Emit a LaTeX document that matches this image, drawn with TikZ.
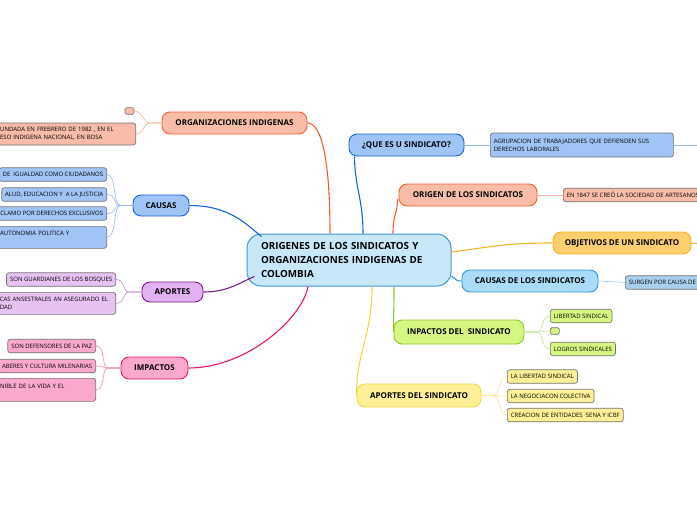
\documentclass[tikz,border=0pt]{standalone}
\usepackage{fontspec}
\setmainfont{Open Sans}
\usepackage{tikz}
\usetikzlibrary{positioning}

\definecolor{rootfill}{RGB}{200,232,250}
\definecolor{rootline}{RGB}{60,150,220}
\definecolor{orgfill}{RGB}{248,188,168}
\definecolor{orgline}{RGB}{240,95,50}
\definecolor{causfill}{RGB}{160,196,246}
\definecolor{causline}{RGB}{20,100,220}
\definecolor{aporfill}{RGB}{226,178,240}
\definecolor{aporline}{RGB}{120,30,130}
\definecolor{impfill}{RGB}{250,168,205}
\definecolor{impline}{RGB}{232,20,110}
\definecolor{objfill}{RGB}{253,206,110}
\definecolor{objline}{RGB}{245,180,40}
\definecolor{csfill}{RGB}{170,220,250}
\definecolor{csline}{RGB}{50,150,220}
\definecolor{csleaf}{RGB}{168,208,236}
\definecolor{inpfill}{RGB}{214,246,130}
\definecolor{inpline}{RGB}{140,200,40}
\definecolor{apsfill}{RGB}{253,240,150}
\definecolor{apsline}{RGB}{240,215,70}
\definecolor{leafline}{RGB}{115,115,115}

\begin{document}
\begin{tikzpicture}[x=1pt,y=-1pt,
    central/.style={draw=rootline, fill=rootfill, line width=1pt, rounded corners=14pt,
      text width=176pt, inner xsep=14pt, minimum height=52pt, align=left,
      font=\bfseries\fontsize{9.8}{13.7}\selectfont},
    branch/.style={line width=0.9pt, rounded corners=8pt, minimum height=22pt, inner sep=0pt,
      font=\bfseries\fontsize{8}{9.5}\selectfont},
    leaf/.style={draw=leafline, line width=0.7pt, rounded corners=2.5pt, inner xsep=3.5pt,
      inner ysep=1pt, minimum height=13.5pt, align=left, font=\fontsize{6}{8}\selectfont},
    dot/.style={draw=leafline, line width=0.7pt, rounded corners=1.5pt, minimum width=9pt,
      minimum height=6.5pt, inner sep=0pt},
    link/.style={line width=1.1pt},
    twig/.style={line width=0.6pt}]
    \useasboundingbox (0,0) rectangle (697,520);
    \clip (0,0) rectangle (697,520);

    \node[central] (root) at (349,260) {ORIGENES DE LOS SINDICATOS Y\\ORGANIZACIONES INDIGENAS DE\\COLOMBIA};

    % left side
    \node[branch, draw=orgline, fill=orgfill, minimum width=145pt] (org) at (234.5,123) {ORGANIZACIONES INDIGENAS};
    \node[dot, fill=orgfill] (org0) at (129.5,111) {};
    \node[leaf, fill=orgfill, text width=132pt, minimum height=22pt, anchor=east] (org1) at (136,134) {UNDADA EN FREBRERO DE 1982 , EN EL\\ESO INDIGENA NACIONAL, EN BOSA};

    \node[branch, draw=causline, fill=causfill, minimum width=56pt, minimum height=21pt] (causas) at (161,205.5) {CAUSAS};
    \node[leaf, fill=causfill, anchor=east] (caus1) at (107,174.5) {DE\ \ IGUALDAD COMO CIUDADANOS};
    \node[leaf, fill=causfill, anchor=east] (caus2) at (107,194.5) {ALUD, EDUCACION Y\ \ A LA JUSTICIA};
    \node[leaf, fill=causfill, anchor=east] (caus3) at (107,213.5) {CLAMO POR DERECHOS EXCLUSIVOS};
    \node[leaf, fill=causfill, text width=103pt, minimum height=22pt, anchor=north east] (caus4) at (107,226) {AUTONOMIA POLITICA Y\\\mbox{}};

    \node[branch, draw=aporline, fill=aporfill, minimum width=61pt, minimum height=20pt] (aportes) at (172.5,292) {APORTES};
    \node[leaf, fill=aporfill!80!white, anchor=east] (apor1) at (116,279.5) {SON GUARDIANES DE LOS BOSQUES};
    \node[leaf, fill=aporfill!80!white, text width=114pt, minimum height=22pt, anchor=north east] (apor2) at (116,292) {ICAS ANSESTRALES AN ASEGURADO EL\\IDAD};

    \node[branch, draw=impline, fill=impfill, minimum width=67pt] (impactos) at (154.5,368) {IMPACTOS};
    \node[leaf, fill=impfill, anchor=east] (imp1) at (96,346) {SON DEFENSORES DE LA PAZ};
    \node[leaf, fill=impfill, anchor=east] (imp2) at (96,366) {ABERES Y CULTURA MILENARIAS};
    \node[leaf, fill=impfill, text width=92pt, minimum height=23pt, anchor=north east] (imp3) at (96,378) {NIBLE DE LA VIDA Y EL\\\mbox{}};

    % right side
    \node[branch, draw=causline, fill=causfill, minimum width=115pt] (quees) at (406.5,145) {¿QUE ES U SINDICATO?};
    \node[leaf, fill=causfill, text width=176pt, minimum height=24pt, anchor=west] (que1) at (490,145) {AGRUPACION DE TRABAJADORES QUE DEFIENDEN SUS\\DERECHOS LABORALES};
    \coordinate (queend) at (700,145);

    \node[branch, draw=orgline, fill=orgfill, minimum width=138pt] (origen) at (468,195) {ORIGEN DE LOS SINDICATOS};
    \node[leaf, fill=orgfill, anchor=west] (ori1) at (563,195) {EN 1847 SE CREÓ LA SOCIEDAD DE ARTESANOS};

    \node[branch, draw=objline, fill=objfill, minimum width=138pt] (objetivos) at (622,243) {OBJETIVOS DE UN SINDICATO};
    \coordinate (objend) at (700,243);

    \node[branch, draw=csline, fill=csfill, minimum width=136pt] (causind) at (530,281) {CAUSAS DE LOS SINDICATOS};
    \node[leaf, fill=csleaf, anchor=west] (cs1) at (625,282.5) {SURGEN POR CAUSA DE};

    \node[branch, draw=inpline, fill=inpfill, minimum width=130pt, minimum height=24pt] (inpactos) at (459,332) {INPACTOS DEL\ \ SINDICATO};
    \node[leaf, fill=inpfill, anchor=west] (inp1) at (550,316) {LIBERTAD SINDICAL};
    \node[dot, fill=inpfill, anchor=west] (inp2) at (550,331) {};
    \node[leaf, fill=inpfill, anchor=west] (inp3) at (550,349) {LOGROS SINDICALES};

    \node[branch, draw=apsline, fill=apsfill, minimum width=124pt, minimum height=23pt] (aportsind) at (419,395.5) {APORTES DEL SINDICATO};
    \node[leaf, fill=apsfill, anchor=west] (aps1) at (507,376.5) {LA LIBERTAD SINDICAL};
    \node[leaf, fill=apsfill, anchor=west] (aps2) at (507,396) {LA NEGOCIACON COLECTIVA};
    \node[leaf, fill=apsfill, anchor=west] (aps3) at (507,415) {CREACION DE ENTIDADES\ \ SENA Y ICBF};

    % main branches
    \draw[link, orgline] ([xshift=-19pt]root.north) .. controls +(0,-70) and +(15,0) .. (org.east);
    \draw[link, causline] (causas.east) .. controls +(40,0) and +(-15,-12) .. ([xshift=15pt,yshift=-3pt]root.north west);
    \draw[link, aporline] (aportes.east) .. controls +(25,0) and +(-15,6) .. ([xshift=8pt,yshift=10pt]root.south west);
    \draw[link, impline] (impactos.east) .. controls +(60,0) and +(-5,30) .. ([xshift=-41pt]root.south);
    \draw[link, causline] ([xshift=14pt]root.north) .. controls +(0,-35) and +(0,30) .. ([xshift=6pt]quees.south west);
    \draw[link, orgline] ([xshift=44pt]root.north) .. controls +(0,-20) and +(0,15) .. ([xshift=-1pt,yshift=-4pt]origen.west);
    \draw[link, objline] ([yshift=8pt]root.east) .. controls +(45,-6) and +(-45,0) .. (objetivos.west);
    \draw[link, csline] ([yshift=-16pt]root.east) .. controls +(6,4) and +(-6,0) .. (causind.west);
    \draw[link, inpline] ([xshift=45pt]root.south) .. controls +(0,25) and +(0,-25) .. (inpactos.west);
    \draw[link, apsline] ([xshift=23pt]root.south) .. controls +(0,50) and +(0,-45) .. (aportsind.west);

    % leaves
    \foreach \leaf in {org0,org1}
      \draw[twig, orgline!50] (org.west) -- ++(-12,0) .. controls +(-6,0) and +(8,0) .. (\leaf.east);
    \foreach \leaf in {caus1,caus2,caus3,caus4}
      \draw[twig, causline!45] (causas.west) -- ++(-12,0) .. controls +(-8,0) and +(10,0) .. (\leaf.east);
    \foreach \leaf in {apor1,apor2}
      \draw[twig, aporline!50] (aportes.west) -- ++(-12,0) .. controls +(-8,0) and +(10,0) .. (\leaf.east);
    \foreach \leaf in {imp1,imp2,imp3}
      \draw[twig, impline!50] (impactos.west) -- ++(-12,0) .. controls +(-8,0) and +(10,0) .. (\leaf.east);
    \foreach \leaf in {inp1,inp2,inp3}
      \draw[twig, inpline!50] (inpactos.east) -- ++(12,0) .. controls +(8,0) and +(-10,0) .. (\leaf.west);
    \foreach \leaf in {aps1,aps2,aps3}
      \draw[twig, apsline!60] (aportsind.east) -- ++(12,0) .. controls +(8,0) and +(-10,0) .. (\leaf.west);
    \draw[twig, causline!45] (quees.east) -- (que1.west);
    \draw[twig, causline!45] (que1.east) -- (queend);
    \draw[twig, orgline!50] (origen.east) -- (ori1.west);
    \draw[twig, objline] (objetivos.east) -- (objend);
    \draw[twig, csline!50] (causind.east) -- (cs1.west);
\end{tikzpicture}
\end{document}
